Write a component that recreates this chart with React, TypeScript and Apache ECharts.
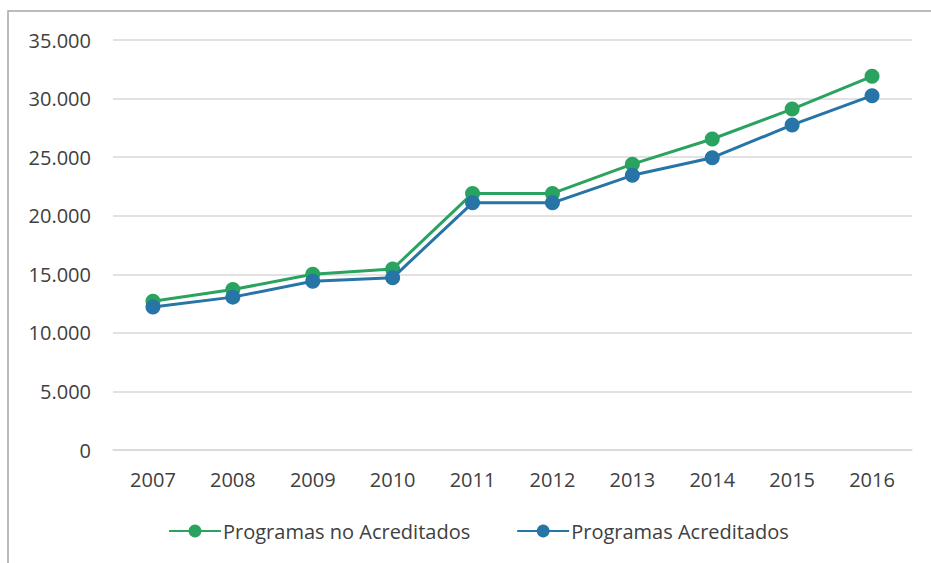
import React, { useEffect, useRef } from "react";
import * as echarts from "echarts";

const years = ["2007", "2008", "2009", "2010", "2011", "2012", "2013", "2014", "2015", "2016"];
const noAcreditados = [12700, 13700, 15000, 15450, 21900, 21900, 24400, 26550, 29100, 31900];
const acreditados = [12200, 13050, 14400, 14700, 21100, 21100, 23450, 24950, 27750, 30250];
const seriesNames = ["Programas no Acreditados", "Programas Acreditados"];
const colors = ["#29A35F", "#2774A6"];

const FONT = "'Open Sans', 'Noto Sans', sans-serif";

export default function App() {
  const ref = useRef<HTMLDivElement>(null);
  useEffect(() => {
    if (!ref.current) return;
    const chart = echarts.init(ref.current, null, { renderer: "svg" });
    chart.setOption({
      animation: false,
      backgroundColor: "#ffffff",
      textStyle: { fontFamily: FONT },
      graphic: [
        {
          type: "rect",
          shape: { x: 8, y: 11, width: 960, height: 600 },
          style: { fill: "none", stroke: "#a6a6a6", lineWidth: 1.5 },
          silent: true,
          z: 0,
        },
      ],
      grid: { left: 113, right: 19, top: 40, bottom: 113, containLabel: false },
      legend: {
        left: 163,
        top: 516,
        itemWidth: 52,
        itemHeight: 16,
        itemGap: 46,
        textStyle: { fontFamily: FONT, fontSize: 20, color: "#404040", padding: [0, 0, 0, -3] },
        data: seriesNames,
      },
      xAxis: {
        type: "category",
        data: years,
        boundaryGap: true,
        axisLine: { show: true, lineStyle: { color: "#d9d9d9", width: 1.5 } },
        axisTick: { show: false },
        axisLabel: { fontFamily: FONT, fontSize: 20, color: "#404040", margin: 19 },
      },
      yAxis: {
        type: "value",
        min: 0,
        max: 35000,
        interval: 5000,
        axisLine: { show: false },
        axisTick: { show: false },
        splitLine: { lineStyle: { color: "#d9d9d9", width: 1.5 } },
        axisLabel: {
          fontFamily: FONT,
          fontSize: 20,
          color: "#404040",
          margin: 22,
          formatter: (v: number) => v.toLocaleString("de-DE"),
        },
      },
      series: [
        {
          name: seriesNames[0],
          type: "line",
          data: noAcreditados,
          symbol: "circle",
          symbolSize: 15,
          lineStyle: { color: colors[0], width: 3 },
          itemStyle: { color: colors[0] },
          z: 2,
        },
        {
          name: seriesNames[1],
          type: "line",
          data: acreditados,
          symbol: "circle",
          symbolSize: 15,
          lineStyle: { color: colors[1], width: 3 },
          itemStyle: { color: colors[1] },
          z: 3,
        },
      ],
    });
    return () => chart.dispose();
  }, []);
  return (
    <div
      ref={ref}
      style={{ position: "fixed", left: 0, top: 0, width: 931, height: 563 }}
    />
  );
}
